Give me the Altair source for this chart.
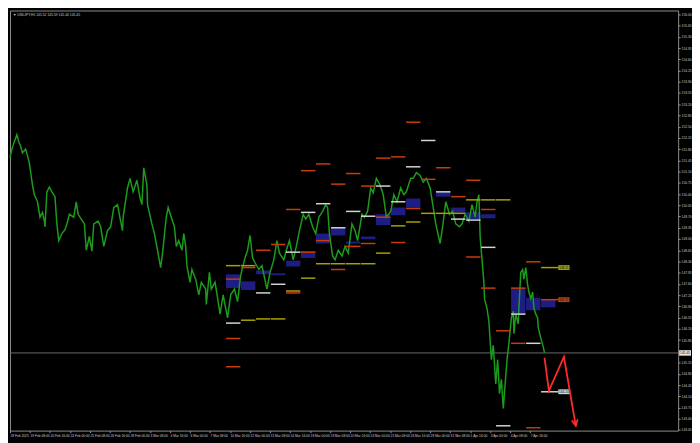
import altair as alt
import pandas as pd

TITLE = "\u25bc USDJPY,H1  145.52 145.59 145.40 145.45"

# ---- price line: hours of trading time since 18 Feb 2025 00:00, price ----
price_hour = [
    0, 3, 6, 11, 14, 17, 20, 25, 28, 31, 36, 39, 44, 48, 52, 55, 56, 59, 63, 67,
    72, 75, 78, 83, 88, 91, 95, 102, 106, 109, 114, 119, 122, 127, 131, 134, 141, 145, 150, 156,
    161, 166, 172, 177, 180, 181, 188, 192, 197, 203, 208, 211, 214, 219, 220, 227, 231, 236, 241, 244,
    250, 253, 258, 263, 266, 270, 275, 278, 281, 283, 288, 291, 297, 302, 306, 313, 314, 319, 322, 328,
    333, 336, 341, 345, 348, 353, 359, 364, 369, 375, 380, 384, 388,
    392, 398, 403, 411, 416, 422, 427, 431, 438, 442, 447, 453, 458, 463, 469, 473, 478, 484, 489, 494,
    500, 505, 508, 511, 516, 520, 525, 531, 536, 541, 547, 552, 556, 563, 567, 572, 577, 581, 586, 592,
    597, 602, 609, 614, 619, 625, 630, 634, 641, 645, 650, 656, 661, 666, 672, 677, 681, 688, 692, 697,
    703, 708, 713, 719, 723, 728, 734, 739, 744, 747, 750, 752, 758, 759, 763, 766,
    767, 770, 773, 777, 780, 783, 786, 789, 792, 795, 798, 802, 805, 806, 809, 813, 814, 817, 820, 822,
    825, 828, 830, 833, 836, 838, 841, 844, 845, 850, 853, 855,
]
price_value = [
    151.53, 151.80, 151.98, 152.25, 152.04, 151.89, 151.68, 151.80, 151.59, 151.37, 150.68, 150.38, 150.16, 149.68, 149.83, 149.56, 149.38, 150.47, 150.62, 150.47,
    150.32, 149.47, 148.95, 149.17, 149.29, 149.47, 149.77, 149.68, 150.16, 149.77, 149.62, 149.47, 148.65, 149.08, 148.62, 149.47, 149.56, 149.38, 148.77, 149.26,
    149.38, 149.98, 150.07, 149.56, 149.26, 149.68, 150.59, 150.89, 150.47, 150.83, 150.29, 150.07, 151.22, 150.68, 150.07, 149.47, 149.17, 148.65, 148.11, 148.56,
    149.68, 149.98, 149.68, 149.38, 148.77, 148.95, 148.65, 149.17, 148.77, 148.17, 147.65, 148.05, 147.75, 147.26, 147.65, 147.44, 146.96, 147.96, 147.44, 147.65,
    147.05, 146.66, 147.26, 146.84, 146.54, 147.26, 147.44, 147.05, 147.87, 148.35, 148.65, 149.11, 148.41,
    148.26, 148.05, 148.17, 147.44, 147.96, 148.35, 148.95, 148.56, 148.35, 148.65, 148.95, 148.35, 148.77, 149.26, 149.77, 149.62, 149.77, 149.38, 149.17, 149.68,
    149.86, 150.07, 149.98, 149.17, 148.47, 148.35, 148.65, 148.47, 148.77, 148.56, 149.47, 149.26, 148.95, 149.77, 149.68, 149.86, 150.59, 150.44, 150.89, 150.68,
    150.38, 149.68, 149.86, 150.38, 150.16, 150.59, 150.38, 150.47, 150.89, 150.89, 151.07, 150.98, 150.77, 150.89, 150.59, 149.98, 149.47, 148.86, 149.38, 150.16,
    149.77, 149.86, 149.47, 149.38, 149.47, 149.77, 149.56, 150.07, 149.68, 150.16, 150.38, 149.08, 147.65, 147.14, 146.84, 146.44,
    146.14, 145.24, 145.69, 144.48, 145.24, 144.18, 144.63, 143.72, 144.48, 145.24, 145.75, 146.54, 146.75, 146.05, 146.66, 146.35, 146.84, 147.96, 148.05, 147.75,
    148.11, 147.56, 147.35, 147.14, 147.35, 146.84, 146.66, 146.54, 146.23, 145.84, 145.63, 145.45,
]

# ---- axis ticks ----
time_tick_hours = [32 * i for i in range(27)]
time_tick_text = [
    "18 Feb 2025", "19 Feb 08:00", "20 Feb 16:00", "24 Feb 00:00", "25 Feb 08:00", "26 Feb 16:00",
    "28 Feb 00:00", "3 Mar 08:00", "4 Mar 16:00", "6 Mar 00:00", "7 Mar 08:00", "10 Mar 16:00",
    "12 Mar 00:00", "13 Mar 08:00", "14 Mar 16:00", "18 Mar 00:00", "19 Mar 08:00", "20 Mar 16:00",
    "24 Mar 00:00", "25 Mar 08:00", "26 Mar 16:00", "28 Mar 00:00", "31 Mar 08:00", "1 Apr 16:00",
    "3 Apr 00:00", "4 Apr 08:00", "7 Apr 16:00",
]
price_tick_values = [
    156.00, 155.65, 155.30, 154.95, 154.60, 154.25, 153.90, 153.55, 153.20, 152.85, 152.50, 152.15,
    151.80, 151.45, 151.10, 150.75, 150.40, 150.05, 149.70, 149.35, 149.00, 148.65, 148.30, 147.95,
    147.60, 147.25, 146.90, 146.55, 146.20, 145.85, 145.15, 144.80, 144.45, 144.10, 143.75, 143.40, 143.05,
]

# ---- daily levels (day index from first level day) ----
DAY0_HOUR = 345
level_day = [
    0, 0, 0, 0, 0,
    1, 1, 1,
    2, 2, 2,
    3, 3, 3,
    4, 4, 4, 4,
    5, 5, 5, 5,
    6, 6, 6, 6,
    7, 7, 7, 7,
    8, 8, 8, 8,
    9, 9, 9, 9,
    10, 10, 10, 10,
    11, 11, 11, 11,
    12, 12, 12, 12,
    13, 13, 13,
    14, 14, 14,
    15, 15, 15,
    16, 16, 16, 16,
    17, 17, 17, 17,
    18, 18, 18,
    19, 19, 19,
    20, 20, 20,
    21, 21, 21,
]
level_price = [
    148.17, 147.75, 146.38, 145.90, 145.02,
    148.17, 148.11, 146.47,
    148.65, 147.32, 146.51,
    148.83, 147.59, 146.51,
    149.92, 148.59, 147.38, 147.32,
    151.13, 149.83, 148.59, 147.78,
    151.34, 150.10, 148.95, 148.23,
    150.71, 149.35, 148.05, 148.23,
    151.04, 149.86, 148.77, 148.23,
    150.65, 149.71, 148.86, 148.23,
    151.52, 150.65, 149.68, 148.56,
    151.56, 150.16, 149.41, 148.89,
    152.64, 151.25, 149.95, 149.53,
    152.07, 150.86, 149.80,
    151.22, 150.47, 149.80,
    150.32, 149.62, 149.80,
    150.83, 150.22, 149.59, 148.44,
    149.92, 150.22, 148.74, 147.47,
    150.22, 146.14, 143.18,
    147.47, 146.66, 145.75,
    148.29, 145.75, 143.12,
    148.11, 147.11, 144.24,
]
level_kind = [
    "olive", "red", "white", "red", "red",
    "olive", "red", "olive",
    "red", "white", "olive",
    "red", "white", "olive",
    "red", "white", "olive", "red",
    "red", "white", "red", "olive",
    "red", "white", "red", "olive",
    "red", "white", "red", "olive",
    "red", "white", "red", "olive",
    "red", "white", "red", "olive",
    "red", "white", "red", "olive",
    "red", "white", "olive", "red",
    "red", "white", "red", "olive",
    "white", "red", "olive",
    "red", "white", "olive",
    "red", "white", "olive",
    "red", "olive", "white", "red",
    "red", "olive", "white", "red",
    "olive", "red", "white",
    "red", "white", "red",
    "red", "white", "red",
    "olive", "red", "white",
]

zone_day = [0, 1, 2, 3, 4, 5, 6, 7, 8, 9, 10, 11, 12, 14, 15, 16, 17, 19, 20, 21]
zone_top = [147.90, 147.68, 148.02, 147.93, 148.32, 148.62, 149.17, 149.35, 148.92, 149.08,
            149.77, 149.98, 150.26, 150.47, 149.98, 149.83, 149.77, 147.47, 147.17, 147.11]
zone_bottom = [147.47, 147.41, 147.90, 147.87, 148.14, 148.41, 148.86, 149.11, 148.86, 148.99,
               149.44, 149.74, 149.98, 150.32, 149.83, 149.62, 149.65, 146.66, 146.78, 146.87]

last_price = 145.45
tag_price = [148.11, 147.11, 144.24]
tag_kind = ["olive", "red", "white"]
TAG_START, TAG_END = 877, 895

path_hour = [855, 862, 886, 905]
path_price = [145.30, 144.27, 145.33, 143.18]

# ---- build tables ----
last_day = max(level_day)
levels = pd.DataFrame({"day": level_day, "p": level_price, "kind": level_kind})
levels["h0"] = DAY0_HOUR + 24 * levels["day"] + 0.5
levels["h1"] = levels["h0"] + 23
levels.loc[levels["day"] == last_day, "h1"] = TAG_START

zones = pd.DataFrame({"day": zone_day, "top": zone_top, "bottom": zone_bottom})
zones["h0"] = DAY0_HOUR + 24 * zones["day"] + 0.5
zones["h1"] = zones["h0"] + 23

prices = pd.DataFrame({"h": price_hour, "p": price_value})
path = pd.DataFrame({"h": path_hour, "p": path_price, "i": list(range(len(path_hour)))})
tags = pd.DataFrame({"p": tag_price, "kind": tag_kind})
tags["h0"] = TAG_START
tags["h1"] = TAG_END
tags["hc"] = (TAG_START + TAG_END) / 2
tags["ptop"] = tags["p"] + 0.075
tags["pbot"] = tags["p"] - 0.075
tags["t"] = tags["p"].map(lambda v: f"{v:.2f}")
cur = pd.DataFrame({"p": [last_price], "ptop": [last_price + 0.085], "pbot": [last_price - 0.085],
                    "t": [f"{last_price:.2f}"]})
title_df = pd.DataFrame({"t": [TITLE]})

W, H = 676, 425
FONT = "Liberation Sans"
xs = alt.Scale(domain=[0, 1068.75], nice=False, zero=False)
ys = alt.Scale(domain=[143.03, 156.12], nice=False, zero=False)

label_arr = "[" + ",".join(f"'{t}'" for t in time_tick_text) + "]"
X_AX = alt.Axis(values=time_tick_hours, labelExpr=f"{label_arr}[round(datum.value / 32)]",
                orient="bottom", labelAlign="left", labelBaseline="top", labelPadding=1,
                tickSize=2, tickColor="#9a9a9a", labelColor="#c8c8c8", labelFontSize=3.3,
                labelFont=FONT, domain=False, grid=False, title=None, labelOverlap=False,
                labelFlush=False)
Y_AX = alt.Axis(values=price_tick_values, format=".2f", orient="right", labelAlign="left",
                labelBaseline="middle", labelPadding=1, tickSize=2, tickColor="#9a9a9a",
                labelColor="#c8c8c8", labelFontSize=3.3, labelFont=FONT, domain=False,
                grid=False, title=None, labelOverlap=False, labelFlush=False)

kind_scale = alt.Scale(domain=["red", "white", "olive"], range=["#c83c0c", "#d4d4d4", "#a8a000"])

def X(f):
    return alt.X(f, type="quantitative", scale=xs, axis=X_AX)

def Y(f):
    return alt.Y(f, type="quantitative", scale=ys, axis=Y_AX)

zone_layer = alt.Chart(zones).mark_rect(color="#20208f", opacity=0.92).encode(
    x=X("h0"), x2="h1", y=Y("top"), y2="bottom")

cur_line = alt.Chart(cur).mark_rule(color="#6a6a6a", strokeWidth=1).encode(y=Y("p"))

green = alt.Chart(prices).mark_line(color="#1c9c1c", strokeWidth=1.5, strokeJoin="miter").encode(
    x=X("h"), y=Y("p"))

level_layer = alt.Chart(levels).mark_rule(strokeWidth=1.5).encode(
    x=X("h0"), x2="h1", y=Y("p"),
    color=alt.Color("kind:N", scale=kind_scale, legend=None))

tag_box = alt.Chart(tags).mark_rect().encode(
    x=X("h0"), x2="h1", y=Y("ptop"), y2="pbot",
    color=alt.Color("kind:N", scale=kind_scale, legend=None))
tag_text = alt.Chart(tags).mark_text(fontSize=3.2, font=FONT, color="#000000", align="center",
                                     baseline="middle").encode(x=X("hc"), y=Y("p"), text="t:N")

zig = alt.Chart(path).mark_line(color="#ff2a2a", strokeWidth=1.8).encode(
    x=X("h"), y=Y("p"), order="i:Q")
head = alt.Chart(path.tail(1)).mark_point(shape="M-0.5,-1L0,0L0.5,-1", filled=False,
                                          strokeWidth=1.8, size=150, angle=350,
                                          color="#ff2a2a", opacity=1).encode(x=X("h"), y=Y("p"))

cur_box = alt.Chart(cur).mark_rect(color="#e6e6e6").encode(
    x=alt.value(W + 1), x2=alt.value(W + 13), y=Y("ptop"), y2="pbot")
cur_text = alt.Chart(cur).mark_text(fontSize=3.3, font=FONT, color="#000000", align="center",
                                    baseline="middle").encode(x=alt.value(W + 7), y=Y("p"), text="t:N")

title = alt.Chart(title_df).mark_text(fontSize=3.4, font=FONT, color="#cfcfcf", align="left",
                                      baseline="middle").encode(
    x=alt.value(3), y=alt.value(5), text="t:N")

chart = alt.layer(
    zone_layer, cur_line, green, level_layer, tag_box, tag_text, zig, head, cur_box, cur_text, title
).properties(
    width=W, height=H,
    autosize=alt.AutoSizeParams(type="none"),
    padding={"left": 2, "top": 0, "right": 14, "bottom": 10},
    background="#000000",
).configure_view(stroke="#8c8c8c", strokeWidth=1, fill="#000000")

chart.save("out.html", embed_options={"renderer": "svg", "actions": False})
